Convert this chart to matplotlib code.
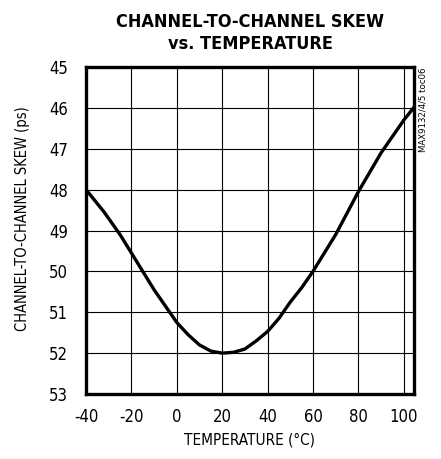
import matplotlib
matplotlib.use("Agg")
import matplotlib.pyplot as plt

plt.rcParams['axes.unicode_minus'] = False
plt.rcParams['font.family'] = ['DejaVu Sans']
plt.rcParams['font.stretch'] = 'condensed'

temp = [-40, -32, -25, -20, -10, -5, 0, 5, 10, 15, 20, 25, 30, 35, 40, 45, 50, 55, 60, 70, 80, 90, 100, 105]
skew = [48.0, 48.55, 49.1, 49.55, 50.45, 50.85, 51.25, 51.55, 51.8, 51.95, 52.0, 51.98, 51.9, 51.7, 51.47, 51.15, 50.75, 50.4, 50.0, 49.1, 48.05, 47.1, 46.3, 45.95]
xticks = [-40, -20, 0, 20, 40, 60, 80, 100]
yticks = [45, 46, 47, 48, 49, 50, 51, 52, 53]

fig = plt.figure(figsize=(4.41, 4.59), dpi=100)
ax = fig.add_axes([86/441, 1-394/459, (414-86)/441, (394-67)/459])
ax.plot(temp, skew, color='black', lw=2.4, solid_joinstyle='round')
ax.set_xlim(-40, 104.5)
ax.set_ylim(53, 45)
ax.set_xticks(xticks)
ax.set_yticks(yticks)
ax.grid(True, color='black', lw=0.8)
for s in ax.spines.values():
    s.set_linewidth(2.4)
ax.tick_params(length=0, labelsize=12)
ax.tick_params(axis='y', pad=13)
ax.tick_params(axis='x', pad=10)
ax.set_xlabel('TEMPERATURE (°C)', fontsize=11)
ax.set_ylabel('CHANNEL-TO-CHANNEL SKEW (ps)', fontsize=10.5)
ax.yaxis.set_label_coords(-(86-23)/328, (394-219)/327)
ax.xaxis.set_label_coords((250-86)/328, -(440-394)/327)
ax.xaxis.label.set_va('center')
ax.yaxis.label.set_va('center')
fig.text(250/441, 1-33/459, 'CHANNEL-TO-CHANNEL SKEW\nvs. TEMPERATURE', ha='center', va='center',
         fontweight='heavy', fontsize=13, linespacing=1.3)
fig.text(423/441, 1-67/459, 'MAX9132/4/5 toc06', rotation=90, ha='center', va='top',
         fontsize=6.8)
fig.savefig('out.png', dpi=100)
